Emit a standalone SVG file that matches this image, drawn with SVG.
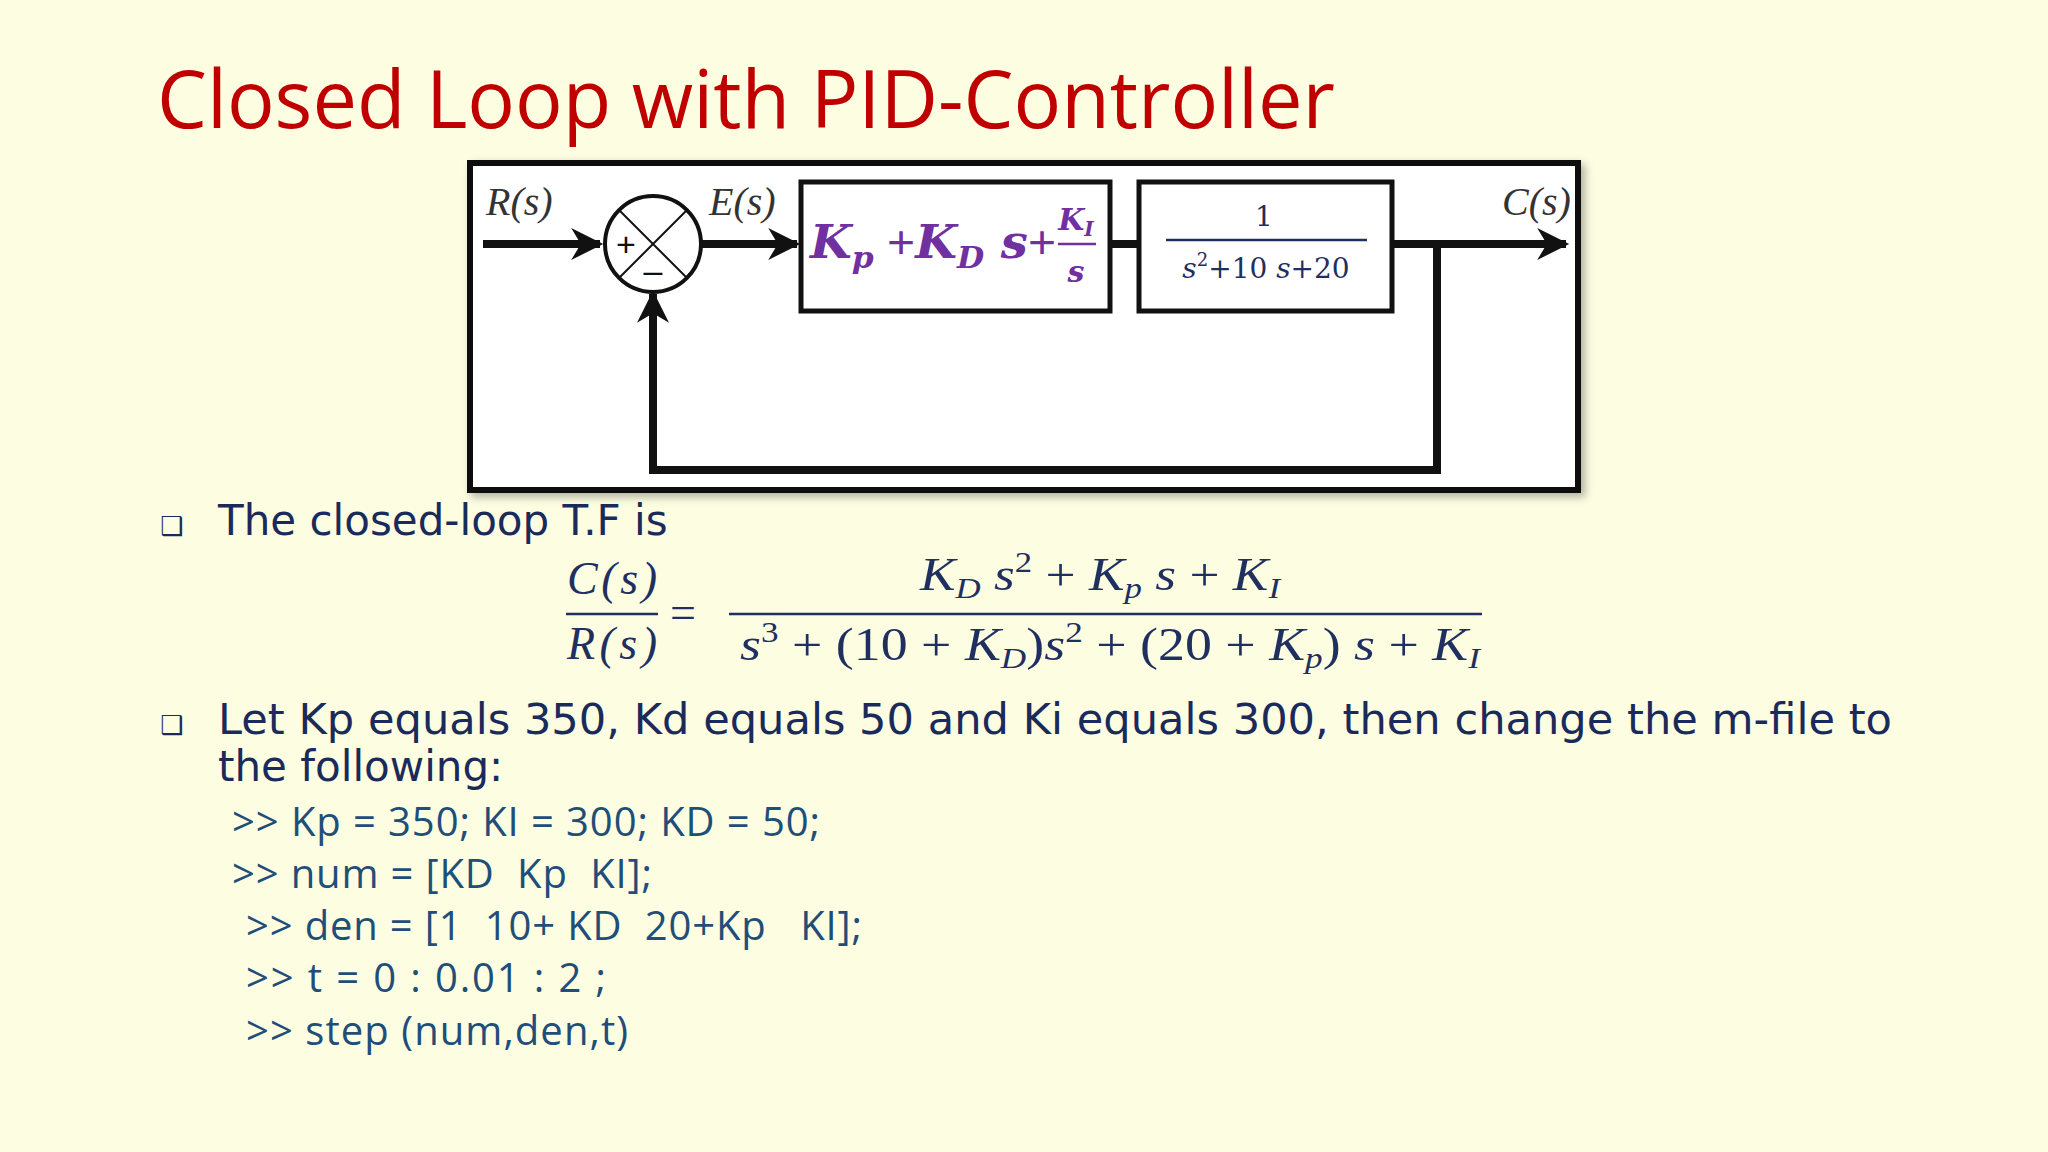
<svg xmlns="http://www.w3.org/2000/svg" width="2048" height="1152" viewBox="0 0 2048 1152">
<defs>
<style>
.lbl{font-family:"Liberation Serif",serif;font-style:italic;font-size:40px;fill:#333}
.pid{font-family:"DejaVu Serif","Liberation Serif",serif;font-style:italic;font-weight:bold;fill:#7030a0}
.pl{font-family:"Liberation Sans",sans-serif;fill:#7030a0}
.g{font-family:"DejaVu Serif","Liberation Serif",serif;fill:#1f2f5f}
.m{font-family:"Liberation Serif",serif;font-size:46px;fill:#1f2f5f}
.mi{font-style:italic}
.body{font-family:"DejaVu Sans","Noto Sans",sans-serif;font-size:42px;fill:#1a2a5a}
.code{font-family:"Open Sans","Noto Sans",sans-serif;font-size:40px;fill:#1f4e79}
.blk{fill:none;stroke:#111;stroke-width:5}
.ln{fill:none;stroke:#111;stroke-width:8}
</style>
<marker id="ah" viewBox="0 0 10 10" refX="9" refY="5" markerWidth="6" markerHeight="4" orient="auto" markerUnits="strokeWidth"><path d="M0,0 L10,5 L0,10 L3,5 z" fill="#111"/></marker>
<filter id="sh" x="-5%" y="-5%" width="110%" height="115%"><feDropShadow dx="4" dy="4" stdDeviation="4" flood-color="#000" flood-opacity="0.3"/></filter>
</defs>
<rect width="2048" height="1152" fill="#fdfde2"/>
<text x="157" y="128" font-family="Open Sans,Noto Sans,sans-serif" font-size="80" fill="#c00000" textLength="1178" lengthAdjust="spacingAndGlyphs">Closed Loop with PID-Controller</text>
<g id="frame"><rect x="470" y="163" width="1108" height="327" fill="#fff" stroke="#111" stroke-width="6" filter="url(#sh)"/></g>
<g id="connectors">
<line class="ln" x1="483" y1="244" x2="600" y2="244" marker-end="url(#ah)"/>
<line class="ln" x1="702" y1="244" x2="797" y2="244" marker-end="url(#ah)"/>
<line class="ln" x1="1110" y1="244" x2="1139" y2="244"/>
<line class="ln" x1="1392" y1="244" x2="1566" y2="244" marker-end="url(#ah)"/>
<polyline class="ln" points="1437,244 1437,470 653,470 653,294" marker-end="url(#ah)"/>
</g>
<g id="sum">
<circle cx="653" cy="244" r="48" fill="#fff" stroke="#111" stroke-width="4"/>
<line x1="619" y1="210" x2="687" y2="278" stroke="#111" stroke-width="2"/>
<line x1="687" y1="210" x2="619" y2="278" stroke="#111" stroke-width="2"/>
<text x="626" y="256" font-family="Liberation Sans,sans-serif" font-size="34" fill="#111" text-anchor="middle">+</text>
<text x="653" y="282" font-family="Liberation Sans,sans-serif" font-size="34" fill="#111" text-anchor="middle">–</text>
</g>
<g id="labels">
<text class="lbl" x="486" y="215">R(s)</text>
<text class="lbl" x="709" y="215">E(s)</text>
<text class="lbl" x="1502" y="215">C(s)</text>
</g>
<g id="pid">
<rect class="blk" x="801" y="182" width="309" height="129" fill="#fff"/>
<text class="pid" x="810" y="258" font-size="46" textLength="246" lengthAdjust="spacingAndGlyphs">K<tspan font-size="30" dy="10">p</tspan><tspan class="pl" dy="-10" font-style="normal" font-weight="normal"> +</tspan>K<tspan font-size="30" dy="10">D</tspan><tspan dy="-10"> s</tspan><tspan class="pl" font-style="normal" font-weight="normal">+</tspan></text>
<text class="pid" x="1076" y="230" font-size="30" text-anchor="middle">K<tspan font-size="20" dy="6">I</tspan></text>
<line x1="1058" y1="244" x2="1096" y2="244" stroke="#7030a0" stroke-width="2.5"/>
<text class="pid" x="1076" y="282" font-size="30" text-anchor="middle">s</text>
</g>
<g id="plant">
<rect class="blk" x="1139" y="182" width="253" height="129" fill="#fff"/>
<text class="g" x="1264" y="226" font-size="28" text-anchor="middle">1</text>
<line x1="1166" y1="240" x2="1367" y2="240" stroke="#1f2f5f" stroke-width="2.5"/>
<text class="g" x="1266" y="278" font-size="28" text-anchor="middle"><tspan font-style="italic">s</tspan><tspan font-size="18" dy="-12">2</tspan><tspan dy="12">+10 </tspan><tspan font-style="italic">s</tspan>+20</text>
</g>
<g id="text">
<text x="160" y="535" font-family="DejaVu Sans,sans-serif" font-size="26" fill="#1a2a5a">❑</text>
<text class="body" x="218" y="535">The closed-loop T.F is</text>
<text class="m mi" x="567" y="594" textLength="90">C(s)</text>
<line x1="566" y1="614" x2="658" y2="614" stroke="#1f2f5f" stroke-width="2.5"/>
<text class="m mi" x="567" y="659" textLength="90">R(s)</text>
<text class="m" x="670" y="628" font-size="54">=</text>
<text class="m" x="920" y="590" textLength="360" lengthAdjust="spacingAndGlyphs"><tspan class="mi">K<tspan font-size="30" dy="8">D</tspan><tspan dy="-8"> s</tspan></tspan><tspan font-size="30" dy="-18">2</tspan><tspan dy="18"> + </tspan><tspan class="mi">K<tspan font-size="30" dy="8">p</tspan><tspan dy="-8"> s</tspan></tspan> +  <tspan class="mi">K<tspan font-size="30" dy="8">I</tspan></tspan></text>
<line x1="729" y1="614" x2="1482" y2="614" stroke="#1f2f5f" stroke-width="2.5"/>
<text class="m" x="740" y="660" textLength="740" lengthAdjust="spacingAndGlyphs"><tspan class="mi">s</tspan><tspan font-size="30" dy="-18">3</tspan><tspan dy="18"> + (10 + </tspan><tspan class="mi">K</tspan><tspan class="mi" font-size="30" dy="8">D</tspan><tspan dy="-8">)</tspan><tspan class="mi">s</tspan><tspan font-size="30" dy="-18">2</tspan><tspan dy="18"> + (20 + </tspan><tspan class="mi">K</tspan><tspan class="mi" font-size="30" dy="8">p</tspan><tspan dy="-8">) </tspan><tspan class="mi">s</tspan> + <tspan class="mi">K</tspan><tspan class="mi" font-size="30" dy="8">I</tspan></text>
<text x="160" y="734" font-family="DejaVu Sans,sans-serif" font-size="26" fill="#1a2a5a">❑</text>
<text class="body" x="218" y="734" textLength="1674" lengthAdjust="spacingAndGlyphs">Let Kp equals 350, Kd equals 50 and Ki equals 300, then change the m-file to</text>
<text class="body" x="218" y="781">the following:</text>
<text class="code" x="232" y="836" textLength="588">&gt;&gt; Kp = 350; KI = 300; KD = 50;</text>
<text class="code" x="232" y="888" xml:space="preserve" textLength="420">&gt;&gt; num = [KD  Kp  KI];</text>
<text class="code" x="246" y="940" xml:space="preserve" textLength="616">&gt;&gt; den = [1  10+ KD  20+Kp   KI];</text>
<text class="code" x="246" y="992" textLength="360">&gt;&gt; t = 0 : 0.01 : 2 ;</text>
<text class="code" x="246" y="1045" textLength="382">&gt;&gt; step (num,den,t)</text>
</g>
</svg>
